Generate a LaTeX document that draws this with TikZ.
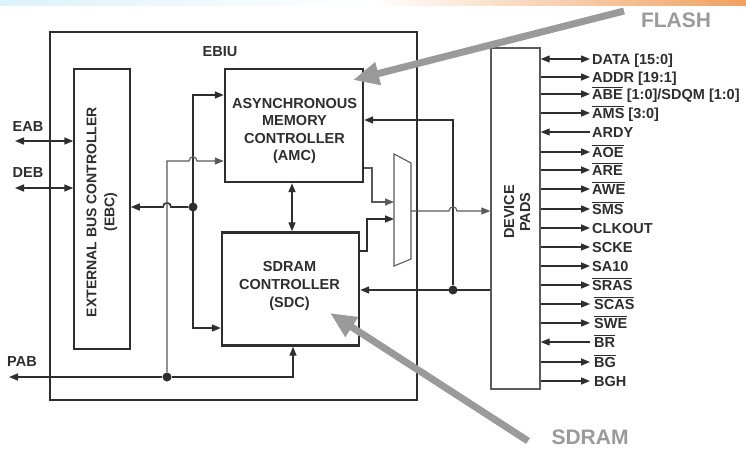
\documentclass[tikz,border=0pt]{standalone}
\usepackage{fontspec}
\setmainfont{Liberation Sans}
\usetikzlibrary{arrows.meta}
\definecolor{ink}{HTML}{2E2E2E}
\definecolor{ink2}{HTML}{5A5A5A}
\definecolor{callout}{HTML}{9A9A9A}
\definecolor{bandL}{HTML}{DCF2FA}
\definecolor{bandR}{HTML}{F0A060}
\newcommand\ovl[1]{\ensuremath{\overline{\mbox{#1}}}}
\begin{document}
\begin{tikzpicture}[x=1pt,y=-1pt,
  blk/.style={draw=ink, line width=2pt, inner sep=0pt},
  wire/.style={draw=ink, line width=1.6pt},
  thinwire/.style={draw=ink2, line width=1.1pt},
  arr/.style={-{Triangle[length=9pt,width=7pt]}},
  arrb/.style={{Triangle[length=9pt,width=7pt]}-{Triangle[length=9pt,width=7pt]}},
  arrl/.style={{Triangle[length=9pt,width=7pt]}-},
  txt/.style={font=\bfseries\fontsize{14.5}{17}\selectfont, text=ink, inner sep=0pt, align=center},
  sig/.style={font=\bfseries\fontsize{14.5}{16}\selectfont, text=ink, inner sep=0pt, anchor=base west},
  dot/.style={circle, fill=ink, inner sep=0pt, minimum size=9pt},
  calloutline/.style={draw=callout, line width=7pt, -{Triangle[length=26pt,width=22pt]}},
  callouttext/.style={font=\bfseries\fontsize{21}{24}\selectfont, text=callout, inner sep=0pt}
]
\useasboundingbox (0,0) rectangle (746,450);
\fill[white] (0,0) rectangle (746,450);
\shade[left color=bandL, right color=white] (0,0) rectangle (373,5);
\shade[left color=white, right color=bandR] (373,0) rectangle (746,5);

% boxes
\node[blk, line width=2.2pt, minimum width=367pt, minimum height=368pt] (ebiu) at (233.5,216) {};
\node[blk, line width=1.5pt, minimum width=56pt, minimum height=280pt] (ebc) at (102,209) {};
\node[blk, line width=2.4pt, minimum width=138pt, minimum height=113pt] (amc) at (294,125.5) {};
\node[blk, line width=2.4pt, minimum width=137pt, minimum height=113pt] (sdc) at (290.5,289) {};
\node[blk, line width=1.3pt, draw=ink2, minimum width=49pt, minimum height=341pt] (pads) at (515.5,218.5) {};

% texts in boxes
\node[txt] (ebiutext) at (220,52) {EBIU};
\node[txt, rotate=90, font=\bfseries\fontsize{14}{18}\selectfont] (ebctext) at (102,212) {EXTERNAL BUS CONTROLLER\\(EBC)};
\node[txt, font=\bfseries\fontsize{14.5}{17.3}\selectfont] (amctext) at (294.5,131) {ASYNCHRONOUS\\MEMORY\\CONTROLLER\\(AMC)};
\node[txt, font=\bfseries\fontsize{14.5}{18}\selectfont] (sdctext) at (289.5,286) {SDRAM\\CONTROLLER\\(SDC)};
\node[txt, rotate=90, font=\bfseries\fontsize{14.5}{16}\selectfont] (padstext) at (517,212) {DEVICE\\PADS};

% mux
\draw[thinwire] (394,154) -- (411,163) -- (411,259) -- (394,266) -- cycle;
\coordinate (muxa) at (394,202);
\coordinate (muxb) at (394,219);
\coordinate (muxo) at (411,211);

% junctions
\node[dot] (j1) at (193,207) {};
\node[dot] (j2) at (167,377) {};
\node[dot] (j3) at (453,290) {};

% left side external buses
\coordinate (eabend) at (15,141);
\coordinate (debend) at (15,188);
\coordinate (pabend) at (9,377);
\draw[wire, arrb] (eabend) -- (ebc.west |- 0,141);
\draw[wire, arrb] (debend) -- (ebc.west |- 0,188);
\node[txt] (eab) at (28,127) {EAB};
\node[txt] (deb) at (28,173) {DEB};
\node[txt] (pab) at (22,362) {PAB};

% internal connections
\draw[wire, arrb] (amc.west |- 0,95) -- (193,95) -- (193,328) -- (sdc.west |- 0,328);
\draw[wire, arr] (j1) -- (171,207) .. controls (171,201.5) and (163,201.5) .. (163,207) -- (ebc.east |- 0,207);
\draw[thinwire, arr] (j2) -- (167,161) -- (189,161) .. controls (189,155.5) and (197,155.5) .. (197,161) -- (amc.west |- 0,161);
\draw[wire, arr] (j2) -- (pabend);
\draw[wire, arr] (j2) -- (293,377) -- (sdc.south -| 293,0);
\draw[wire, arrb] (amc.south -| 292,0) -- (sdc.north -| 292,0);
\draw[wire, arr] (pads.west |- 0,290) -- (sdc.east |- 0,290);
\draw[wire, arr] (j3) -- (453,120) -- (amc.east |- 0,120);
\draw[thinwire, arr] (amc.east |- 0,168) -- (372,168) -- (372,202) -- (muxa);
\draw[wire, arr] (sdc.east |- 0,251) -- (367,251) -- (367,219) -- (muxb);
\draw[thinwire, arr] (muxo) -- (449,211) .. controls (449,205.5) and (457,205.5) .. (457,211) -- (pads.west |- 0,211);

% right side signals
\draw[thinwire, draw=ink, arrb] (pads.east |- 0,59) -- (590,59);
\draw[wire, arr] (pads.east |- 0,77) -- (590,77);
\draw[wire, arr] (pads.east |- 0,94) -- (590,94);
\draw[wire, arr] (pads.east |- 0,113) -- (590,113);
\draw[thinwire, draw=ink, arrl] (pads.east |- 0,132) -- (590,132);
\draw[wire, arr] (pads.east |- 0,152) -- (590,152);
\draw[wire, arr] (pads.east |- 0,170) -- (590,170);
\draw[wire, arr] (pads.east |- 0,189) -- (590,189);
\draw[wire, arr] (pads.east |- 0,209) -- (590,209);
\draw[wire, arr] (pads.east |- 0,228) -- (590,228);
\draw[thinwire, draw=ink, arr] (pads.east |- 0,247) -- (590,247);
\draw[wire, arr] (pads.east |- 0,266) -- (590,266);
\draw[wire, arr] (pads.east |- 0,285) -- (590,285);
\draw[thinwire, draw=ink, arr] (pads.east |- 0,304) -- (590,304);
\draw[wire, arr] (pads.east |- 0,323) -- (590,323);
\draw[thinwire, draw=ink, arrl] (pads.east |- 0,342) -- (590,342);
\draw[wire, arr] (pads.east |- 0,362) -- (590,362);
\draw[wire, arr] (pads.east |- 0,381) -- (590,381);

\node[sig] (sdata) at (592,64) {DATA [15:0]};
\node[sig] (saddr) at (592,82) {ADDR [19:1]};
\node[sig] (sabe) at (592,99) {\ovl{ABE} [1:0]/SDQM [1:0]};
\node[sig] (sams) at (592,118) {\ovl{AMS} [3:0]};
\node[sig] (sardy) at (592,137) {ARDY};
\node[sig] (saoe) at (592,157) {\ovl{AOE}};
\node[sig] (sare) at (592,175) {\ovl{ARE}};
\node[sig] (sawe) at (592,194) {\ovl{AWE}};
\node[sig] (ssms) at (592,214) {\ovl{SMS}};
\node[sig] (sclk) at (592,233) {CLKOUT};
\node[sig] (scke) at (592,252) {SCKE};
\node[sig] (ssa) at (592,271) {SA10};
\node[sig] (sras) at (592,290) {\ovl{SRAS}};
\node[sig] (scas) at (594,309) {\ovl{SCAS}};
\node[sig] (sswe) at (594,328) {\ovl{SWE}};
\node[sig] (sbr) at (594,347) {\ovl{BR}};
\node[sig] (sbg) at (594,367) {\ovl{BG}};
\node[sig] (sbgh) at (594,386) {BGH};

% callouts
\node[callouttext] (flash) at (676,20) {FLASH};
\node[callouttext] (sdram) at (590,437) {SDRAM};
\coordinate (flashfrom) at (624,11);
\coordinate (flashto) at (353,80);
\coordinate (sdramfrom) at (528,441);
\coordinate (sdramto) at (330,313);
\draw[calloutline] (flashfrom) -- (flashto);
\draw[calloutline] (sdramfrom) -- (sdramto);
\end{tikzpicture}
\end{document}
